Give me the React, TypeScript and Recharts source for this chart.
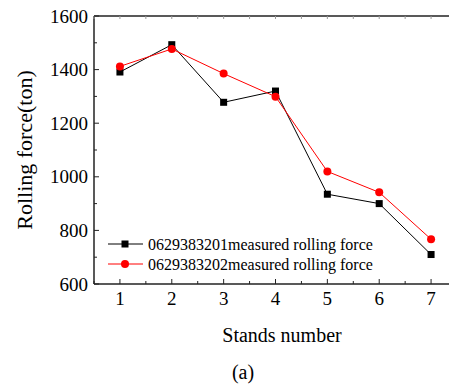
import React from "react";
import { LineChart, Line, XAxis, YAxis, Legend, Label } from "recharts";

const stands = [1, 2, 3, 4, 5, 6, 7];
const force3201 = [1391, 1493, 1278, 1320, 935, 900, 710];
const force3202 = [1412, 1477, 1385, 1299, 1020, 942, 767];
const xTicks = [0.5, 1, 1.5, 2, 2.5, 3, 3.5, 4, 4.5, 5, 5.5, 6, 6.5, 7, 7.5];
const yTicks = [600, 700, 800, 900, 1000, 1100, 1200, 1300, 1400, 1500, 1600];
const seriesNames = [
  "0629383201measured rolling force",
  "0629383202measured rolling force",
];

const data = stands.map((s, i) => ({
  stand: s,
  a: force3201[i],
  b: force3202[i],
}));

const FONT = "'Liberation Serif', 'Times New Roman', serif";
const AXIS = "#222";
const INK = "#000";

function YTick(props: any) {
  const { x, y, payload } = props;
  const v = payload.value;
  const major = v % 200 === 0;
  const ax = x + 6;
  return (
    <g>
      <line x1={ax} x2={ax + (major ? 5 : 3)} y1={y} y2={y} stroke={AXIS} strokeWidth={1} />
      {major && (
        <text x={x} y={y} dy="0.35em" textAnchor="end" fontSize={19} fontFamily={FONT} fill={INK}>
          {v}
        </text>
      )}
    </g>
  );
}

function XTick(props: any) {
  const { x, y, payload } = props;
  const v = payload.value;
  const major = Number.isInteger(v);
  const ay = y - 8;
  return (
    <g>
      <line x1={x} x2={x} y1={ay} y2={ay - (major ? 5 : 3)} stroke={AXIS} strokeWidth={1} />
      {major && (
        <text x={x} y={ay + 21} textAnchor="middle" fontSize={19} fontFamily={FONT} fill={INK}>
          {v}
        </text>
      )}
    </g>
  );
}

function TopTick(props: any) {
  const { x, y } = props;
  return <line x1={x} x2={x} y1={y} y2={y + 3} stroke="#999" strokeWidth={1} />;
}

function SquareDot(props: any) {
  const { cx, cy } = props;
  if (cx == null || cy == null) return null;
  return <rect x={cx - 3.5} y={cy - 3.5} width={7} height={7} fill="#000" />;
}

function LegendBox() {
  return (
    <svg width={300} height={44}>
      <line x1={8} x2={43} y1={12} y2={12} stroke="#000" strokeWidth={1} />
      <rect x={21.5} y={8.5} width={7} height={7} fill="#000" />
      <text x={48} y={12} dy="0.35em" fontSize={16} fontFamily={FONT} fill={INK}>
        {seriesNames[0]}
      </text>
      <line x1={8} x2={43} y1={32} y2={32} stroke="#f00" strokeWidth={1} />
      <circle cx={25} cy={32} r={4} fill="#f00" />
      <text x={48} y={32} dy="0.35em" fontSize={16} fontFamily={FONT} fill={INK}>
        {seriesNames[1]}
      </text>
    </svg>
  );
}

export default function App() {
  return (
    <div
      style={{
        position: "absolute",
        left: 0,
        top: 0,
        width: 449,
        height: 385,
        overflow: "hidden",
        background: "#fff",
      }}
    >
      <LineChart
        width={460}
        height={385}
        data={data}
        margin={{ top: 10, right: 3, left: 0, bottom: 0 }}
      >
        <XAxis
          xAxisId="top"
          orientation="top"
          dataKey="stand"
          type="number"
          domain={[0.5, 7.5]}
          ticks={xTicks}
          height={6}
          tickSize={0}
          tickMargin={0}
          tick={<TopTick />}
          axisLine={{ stroke: AXIS, strokeWidth: 1.5 }}
          interval={0}
        />
        <XAxis
          dataKey="stand"
          type="number"
          domain={[0.5, 7.5]}
          ticks={xTicks}
          height={101}
          tickSize={0}
          tickMargin={8}
          tick={<XTick />}
          axisLine={{ stroke: AXIS, strokeWidth: 1.5 }}
          interval={0}
        >
          <Label
            content={() => (
              <text x={282} y={342} textAnchor="middle" fontSize={20} fontFamily={FONT} fill={INK}>
                Stands number
              </text>
            )}
          />
        </XAxis>
        <YAxis
          type="number"
          domain={[600, 1600]}
          ticks={yTicks}
          width={94}
          tickSize={0}
          tickMargin={6}
          tick={<YTick />}
          axisLine={{ stroke: AXIS, strokeWidth: 1.5 }}
          interval={0}
        >
          <Label
            content={() => (
              <text
                x={32}
                y={150}
                transform="rotate(-90 32 150)"
                textAnchor="middle"
                fontSize={22}
                fontFamily={FONT}
                fill={INK}
              >
                Rolling force(ton)
              </text>
            )}
          />
        </YAxis>
        <Legend
          layout="horizontal"
          verticalAlign="middle"
          align="center"
          content={() => <LegendBox />}
          wrapperStyle={{ left: 100, top: 232, width: 300, height: 44 }}
        />
        <Line
          dataKey="a"
          name={seriesNames[0]}
          stroke="#000"
          strokeWidth={1}
          dot={<SquareDot />}
          isAnimationActive={false}
        />
        <Line
          dataKey="b"
          name={seriesNames[1]}
          stroke="#f00"
          strokeWidth={1}
          dot={{ r: 4, fill: "#f00", stroke: "#f00", strokeWidth: 0 }}
          isAnimationActive={false}
        />
      </LineChart>
      <div
        style={{
          position: "absolute",
          left: 0,
          top: 360,
          width: 486,
          textAlign: "center",
          fontFamily: FONT,
          fontSize: 20,
          lineHeight: "24px",
          color: INK,
        }}
      >
        (a)
      </div>
    </div>
  );
}
